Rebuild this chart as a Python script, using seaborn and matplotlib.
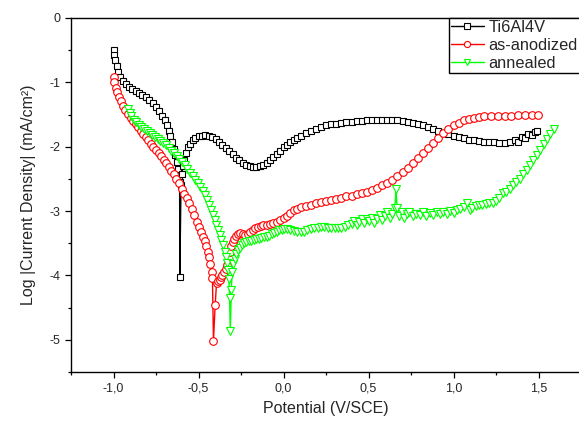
import matplotlib
matplotlib.use("Agg")
import matplotlib.pyplot as plt
import numpy as np
import pandas as pd
import seaborn as sns
from matplotlib.ticker import MultipleLocator, FuncFormatter

# Ti6Al4V (black squares): potential (V/SCE), log|i| (mA/cm2)
TI_E = [-1.000, -0.995, -0.990, -0.982, -0.972, -0.960, -0.945, -0.928, -0.910, -0.890,
        -0.870, -0.850, -0.830, -0.810, -0.790, -0.770, -0.750, -0.730, -0.715, -0.700,
        -0.688, -0.676, -0.665, -0.655, -0.645, -0.636, -0.628, -0.621, -0.615, -0.611,
        -0.610, -0.603, -0.598, -0.592, -0.585, -0.575, -0.563, -0.550, -0.535, -0.520,
        -0.500, -0.480, -0.460, -0.440, -0.420, -0.400, -0.380, -0.360, -0.340, -0.320,
        -0.300, -0.280, -0.260, -0.240, -0.220, -0.200, -0.180, -0.160, -0.140, -0.120,
        -0.100, -0.080, -0.060, -0.040, -0.020, 0.000, 0.020, 0.040, 0.060, 0.080,
        0.100, 0.130, 0.160, 0.190, 0.220, 0.250, 0.280, 0.310, 0.340, 0.370,
        0.400, 0.430, 0.460, 0.490, 0.520, 0.550, 0.580, 0.610, 0.640, 0.670,
        0.700, 0.730, 0.760, 0.790, 0.820, 0.850, 0.880, 0.910, 0.940, 0.970,
        1.000, 1.030, 1.060, 1.090, 1.120, 1.150, 1.180, 1.210, 1.240, 1.270,
        1.300, 1.330, 1.360, 1.380, 1.400, 1.420, 1.440, 1.460, 1.480, 1.490]
TI_LOGI = [-0.50, -0.58, -0.66, -0.75, -0.84, -0.92, -0.98, -1.03, -1.07, -1.10,
           -1.13, -1.16, -1.19, -1.23, -1.27, -1.32, -1.38, -1.45, -1.52, -1.59,
           -1.67, -1.75, -1.84, -1.93, -2.03, -2.13, -2.24, -2.35, -2.45, -2.55,
           -4.02, -2.60, -2.42, -2.30, -2.20, -2.10, -2.01, -1.95, -1.90, -1.87,
           -1.84, -1.83, -1.82, -1.83, -1.85, -1.88, -1.92, -1.97, -2.02, -2.07,
           -2.12, -2.17, -2.21, -2.25, -2.28, -2.30, -2.31, -2.31, -2.30, -2.28,
           -2.25, -2.21, -2.16, -2.11, -2.06, -2.01, -1.97, -1.93, -1.90, -1.87,
           -1.84, -1.79, -1.75, -1.72, -1.69, -1.67, -1.65, -1.64, -1.63, -1.62,
           -1.61, -1.60, -1.60, -1.59, -1.59, -1.58, -1.58, -1.58, -1.58, -1.59,
           -1.60, -1.61, -1.63, -1.65, -1.67, -1.69, -1.72, -1.75, -1.78, -1.81,
           -1.83, -1.85, -1.87, -1.89, -1.90, -1.91, -1.92, -1.93, -1.93, -1.94,
           -1.94, -1.93, -1.90, -1.92, -1.85, -1.86, -1.80, -1.82, -1.77, -1.76]

# as-anodized (red circles)
AN_E = [-1.000, -0.995, -0.988, -0.980, -0.970, -0.958, -0.945, -0.930, -0.915, -0.900,
        -0.885, -0.870, -0.855, -0.840, -0.825, -0.810, -0.795, -0.780, -0.765, -0.750,
        -0.735, -0.720, -0.705, -0.690, -0.675, -0.660, -0.645, -0.630, -0.615, -0.600,
        -0.585, -0.570, -0.555, -0.540, -0.525, -0.510, -0.497, -0.485, -0.474, -0.464,
        -0.455, -0.446, -0.438, -0.430, -0.423, -0.418, -0.412,
        -0.402, -0.394, -0.385, -0.376, -0.368, -0.360, -0.350, -0.340, -0.330, -0.322,
        -0.315, -0.308, -0.300, -0.290, -0.280, -0.268, -0.255, -0.240, -0.225, -0.210,
        -0.195, -0.180, -0.165, -0.150, -0.135, -0.120, -0.100, -0.080, -0.060, -0.040,
        -0.020, 0.000, 0.020, 0.040, 0.060, 0.080, 0.100, 0.130, 0.160, 0.190,
        0.220, 0.250, 0.280, 0.310, 0.340, 0.370, 0.400, 0.430, 0.460, 0.490,
        0.520, 0.550, 0.580, 0.610, 0.640, 0.670, 0.700, 0.730, 0.760, 0.790,
        0.820, 0.850, 0.880, 0.910, 0.940, 0.970, 1.000, 1.030, 1.060, 1.090,
        1.120, 1.150, 1.180, 1.220, 1.260, 1.300, 1.340, 1.380, 1.420, 1.460, 1.495]
AN_LOGI = [-0.91, -1.00, -1.08, -1.15, -1.22, -1.29, -1.36, -1.43, -1.49, -1.55,
           -1.60, -1.65, -1.70, -1.75, -1.80, -1.85, -1.90, -1.95, -2.00, -2.05,
           -2.10, -2.15, -2.20, -2.25, -2.31, -2.37, -2.43, -2.50, -2.57, -2.65,
           -2.73, -2.80, -2.87, -2.96, -3.06, -3.17, -3.25, -3.33, -3.40, -3.47,
           -3.55, -3.63, -3.72, -3.82, -3.95, -4.04, -5.02,
           -4.46, -4.12, -4.09, -4.07, -4.03, -3.99, -3.94, -3.90, -3.84, -3.74,
           -3.63, -3.55, -3.48, -3.43, -3.39, -3.36, -3.34, -3.35, -3.37, -3.36,
           -3.33, -3.30, -3.27, -3.25, -3.23, -3.22, -3.21, -3.20, -3.19, -3.17,
           -3.14, -3.11, -3.08, -3.03, -2.99, -2.96, -2.94, -2.92, -2.90, -2.88,
           -2.86, -2.85, -2.83, -2.81, -2.79, -2.77, -2.76, -2.74, -2.72, -2.70,
           -2.67, -2.64, -2.60, -2.56, -2.51, -2.46, -2.40, -2.33, -2.26, -2.18,
           -2.10, -2.02, -1.94, -1.86, -1.79, -1.72, -1.67, -1.63, -1.59, -1.57,
           -1.55, -1.54, -1.53, -1.53, -1.52, -1.52, -1.52, -1.51, -1.51, -1.51, -1.51]

# annealed (green triangles)
AL_E = [-0.915, -0.905, -0.895, -0.882, -0.868, -0.852, -0.836, -0.820, -0.804, -0.788,
        -0.772, -0.756, -0.740, -0.724, -0.708, -0.692, -0.676, -0.660, -0.644, -0.628,
        -0.612, -0.596, -0.580, -0.565, -0.550, -0.535, -0.520, -0.505, -0.490, -0.476,
        -0.463, -0.450, -0.438, -0.426, -0.415, -0.405, -0.395, -0.385, -0.375, -0.365,
        -0.356, -0.347, -0.339, -0.332, -0.326, -0.321, -0.317, -0.313,
        -0.307, -0.302, -0.295, -0.287, -0.278, -0.268, -0.258, -0.245, -0.232, -0.218,
        -0.204, -0.190, -0.175, -0.160, -0.145, -0.130, -0.115, -0.100, -0.085, -0.070,
        -0.055, -0.040, -0.025, -0.010, 0.005, 0.020, 0.040, 0.060, 0.080, 0.100,
        0.120, 0.140, 0.160, 0.180, 0.200, 0.220, 0.240, 0.260, 0.280, 0.300,
        0.320, 0.340, 0.360, 0.380, 0.400, 0.415, 0.430, 0.445, 0.460, 0.475,
        0.490, 0.505, 0.520, 0.535, 0.550, 0.565, 0.580, 0.595, 0.610, 0.625,
        0.640, 0.655, 0.662, 0.668, 0.680, 0.695, 0.710, 0.725, 0.740, 0.760,
        0.780, 0.800, 0.820, 0.840, 0.860, 0.880, 0.900, 0.920, 0.940, 0.960,
        0.980, 1.000, 1.020, 1.040, 1.060, 1.080, 1.095, 1.110, 1.130, 1.150,
        1.170, 1.190, 1.210, 1.230, 1.250, 1.270, 1.290, 1.310, 1.330, 1.350,
        1.370, 1.390, 1.410, 1.430, 1.450, 1.470, 1.490, 1.510, 1.530, 1.550,
        1.570, 1.590]
AL_LOGI = [-1.41, -1.48, -1.53, -1.58, -1.62, -1.66, -1.69, -1.73, -1.76, -1.79,
           -1.82, -1.85, -1.88, -1.91, -1.94, -1.98, -2.02, -2.06, -2.10, -2.14,
           -2.19, -2.24, -2.29, -2.35, -2.41, -2.46, -2.52, -2.57, -2.63, -2.69,
           -2.75, -2.82, -2.90, -2.98, -3.06, -3.14, -3.22, -3.30, -3.37, -3.45,
           -3.53, -3.63, -3.72, -3.80, -3.92, -4.05, -4.35, -4.86,
           -4.22, -3.94, -3.82, -3.74, -3.67, -3.61, -3.57, -3.53, -3.50, -3.48,
           -3.47, -3.46, -3.45, -3.44, -3.43, -3.42, -3.41, -3.40, -3.38, -3.36,
           -3.34, -3.32, -3.30, -3.29, -3.28, -3.28, -3.29, -3.31, -3.32, -3.33,
           -3.32, -3.30, -3.28, -3.27, -3.26, -3.25, -3.25, -3.26, -3.26, -3.27,
           -3.26, -3.26, -3.24, -3.22, -3.20, -3.15, -3.22, -3.17, -3.12, -3.19,
           -3.13, -3.16, -3.10, -3.18, -3.12, -3.06, -3.14, -3.08, -3.02, -3.10,
           -3.04, -2.95, -2.65, -2.95, -3.08, -3.02, -3.10, -3.05, -3.02, -3.08,
           -3.04, -3.06, -3.01, -3.07, -3.03, -3.06, -3.02, -3.05, -3.01, -3.04,
           -3.00, -3.03, -2.99, -2.97, -2.93, -2.88, -2.98, -2.95, -2.92, -2.91,
           -2.90, -2.89, -2.88, -2.87, -2.84, -2.79, -2.72, -2.70, -2.65, -2.60,
           -2.55, -2.50, -2.43, -2.36, -2.29, -2.21, -2.13, -2.05, -1.96, -1.88,
           -1.80, -1.72]

SERIES = [
    ("Ti6Al4V", TI_E, TI_LOGI, "black", "s", 5.0),
    ("as-anodized", AN_E, AN_LOGI, "#FF0000", "o", 5.5),
    ("annealed", AL_E, AL_LOGI, "#00FF00", "v", 6.0),
]

sns.set_style("ticks")
plt.rcParams["font.family"] = ["Liberation Sans", "DejaVu Sans"]
plt.rcParams["axes.unicode_minus"] = False

fig = plt.figure(figsize=(5.79, 4.21), dpi=100)
ax = fig.add_axes([71 / 579, 49 / 421, 510 / 579, 354 / 421])

for name, e, logi, color, mk, ms in SERIES:
    df = pd.DataFrame({"E": e, "logi": logi})
    sns.lineplot(data=df, x="E", y="logi", sort=False, estimator=None, ax=ax,
                 color=color, linewidth=1.0, marker=mk, markersize=ms,
                 markerfacecolor="white", markeredgecolor=color,
                 markeredgewidth=0.8, label=name)

ax.set_xlim(-1.25, 1.75)
ax.set_ylim(-5.5, 0)
ax.xaxis.set_major_locator(MultipleLocator(0.5))
ax.xaxis.set_minor_locator(MultipleLocator(0.25))
ax.yaxis.set_major_locator(MultipleLocator(1))
ax.yaxis.set_minor_locator(MultipleLocator(0.5))
ax.xaxis.set_major_formatter(FuncFormatter(lambda v, p: f"{v:.1f}".replace(".", ",").replace("-0,0", "0,0")))
ax.yaxis.set_major_formatter(FuncFormatter(lambda v, p: f"{int(round(v))}"))
ax.tick_params(which="major", direction="out", length=4, width=0.9, labelsize=9, color="black")
ax.tick_params(which="minor", direction="out", length=2.5, width=0.9, color="black")

for s in ["left", "bottom", "top"]:
    ax.spines[s].set_linewidth(1.0)
    ax.spines[s].set_color("black")
ax.spines["right"].set_visible(False)

ax.set_xlabel("Potential (V/SCE)", fontsize=11.5, labelpad=5)
ax.set_ylabel("Log |Current Density| (mA/cm²)", fontsize=11.5, labelpad=10)

leg = ax.legend(loc="upper left", bbox_to_anchor=(449 / 579, 1 - 18 / 421),
                bbox_transform=fig.transFigure, borderaxespad=0, fontsize=11.8,
                frameon=True, fancybox=False, edgecolor="black", framealpha=1,
                handlelength=2.0, handletextpad=0.3, labelspacing=0.18,
                borderpad=0.12, markerscale=0.8)
leg.get_frame().set_linewidth(1.0)

fig.savefig("out.png", dpi=100)
